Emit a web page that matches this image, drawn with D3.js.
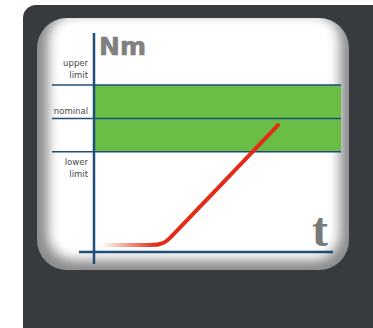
<!DOCTYPE html>
<html><head><meta charset="utf-8">
<script src="https://cdn.jsdelivr.net/npm/d3@7"></script>
<style>html,body{margin:0;padding:0;background:#fff;}svg{display:block;}</style>
</head><body>
<script>
// ---- data ----
const limitNames = ["upper limit", "nominal", "lower limit"];
const limitValues = [100, 80, 60];          // Nm
const curveT = [4.5, 22, 25.5, 27.5, 29.5, 31.5, 34, 50, 76.7];   // time
const curveNm = [4.2, 4.2, 4.3, 4.8, 5.9, 8.2, 11.9, 35.9, 76];   // torque
const yLabel = "Nm";
const xLabel = "t";

const W = 373, H = 328;
const svg = d3.select("body").append("svg").attr("width", W).attr("height", H);
const defs = svg.append("defs");

// scales
const x = d3.scaleLinear().domain([0, 100]).range([94, 334]);
const y = d3.scaleLinear().domain([0, 100]).range([252, 85]);

// dark panel
svg.append("rect").attr("x", 23).attr("y", 5).attr("width", 380).attr("height", 340)
  .attr("rx", 13).attr("fill", "#373b40");

// white inner panel with vignette
defs.append("clipPath").attr("id", "pc").append("rect")
  .attr("x", 37).attr("y", 18).attr("width", 312).attr("height", 252).attr("rx", 30);
defs.append("filter").attr("id", "bl").attr("x", "-20%").attr("y", "-20%").attr("width", "140%").attr("height", "140%")
  .append("feGaussianBlur").attr("stdDeviation", 6);
const pg = svg.append("g").attr("clip-path", "url(#pc)");
pg.append("rect").attr("x", 37).attr("y", 18).attr("width", 312).attr("height", 252).attr("fill", "#8c8c8c");
pg.append("rect").attr("x", 48).attr("y", 14).attr("width", 292).attr("height", 246).attr("rx", 26)
  .attr("fill", "#ffffff").attr("filter", "url(#bl)");

// green tolerance band
svg.append("rect").attr("x", x(0)).attr("y", y(limitValues[0]))
  .attr("width", 341 - x(0)).attr("height", y(limitValues[2]) - y(limitValues[0]))
  .attr("fill", "#6abd45");

// limit lines
svg.selectAll("line.lim").data(limitValues).join("line").attr("class", "lim")
  .attr("x1", 52).attr("x2", 341).attr("y1", d => y(d)).attr("y2", d => y(d))
  .attr("stroke", "#1f4e79").attr("stroke-width", 1.5);

// limit labels
const lab = svg.append("g").attr("font-family", "DejaVu Sans, sans-serif").attr("font-size", 8.5)
  .attr("fill", "#4a4a4a").attr("text-anchor", "end");
lab.append("text").attr("x", 88).attr("y", 66).text("upper");
lab.append("text").attr("x", 88).attr("y", 78).text("limit");
lab.append("text").attr("x", 88).attr("y", y(limitValues[1]) - 4).text("nominal");
lab.append("text").attr("x", 88).attr("y", 165).text("lower");
lab.append("text").attr("x", 88).attr("y", 177).text("limit");

// axes
svg.append("line").attr("x1", x(0)).attr("x2", x(0)).attr("y1", 33).attr("y2", 264)
  .attr("stroke", "#1f4e79").attr("stroke-width", 2.5);
svg.append("line").attr("x1", 79).attr("x2", 333).attr("y1", y(0)).attr("y2", y(0))
  .attr("stroke", "#1f4e79").attr("stroke-width", 2.5);

// axis titles
svg.append("text").attr("x", 99).attr("y", 55).text(yLabel)
  .attr("font-family", "DejaVu Sans, sans-serif").attr("font-weight", "bold").attr("font-size", 25)
  .attr("fill", "#808080").attr("stroke", "#808080").attr("stroke-width", 0.6);
svg.append("text").attr("x", 312).attr("y", 246).text(xLabel)
  .attr("font-family", "Liberation Serif, serif").attr("font-weight", "bold").attr("font-size", 48)
  .attr("fill", "#7a7a7a");

// red curve with fading gradient
const grad = defs.append("linearGradient").attr("id", "rg").attr("gradientUnits", "userSpaceOnUse")
  .attr("x1", x(curveT[0])).attr("x2", x(curveT[2])).attr("y1", 0).attr("y2", 0);
grad.append("stop").attr("offset", 0).attr("stop-color", "#e8401c").attr("stop-opacity", 0.08);
grad.append("stop").attr("offset", 1).attr("stop-color", "#e32b17").attr("stop-opacity", 1);
const pts = curveT.map((t, i) => [t, curveNm[i]]);
svg.append("path").datum(pts)
  .attr("d", d3.line().x(d => x(d[0])).y(d => y(d[1])).curve(d3.curveMonotoneX))
  .attr("fill", "none").attr("stroke", "url(#rg)").attr("stroke-width", 4).attr("stroke-linecap", "round");
</script>
</body></html>
